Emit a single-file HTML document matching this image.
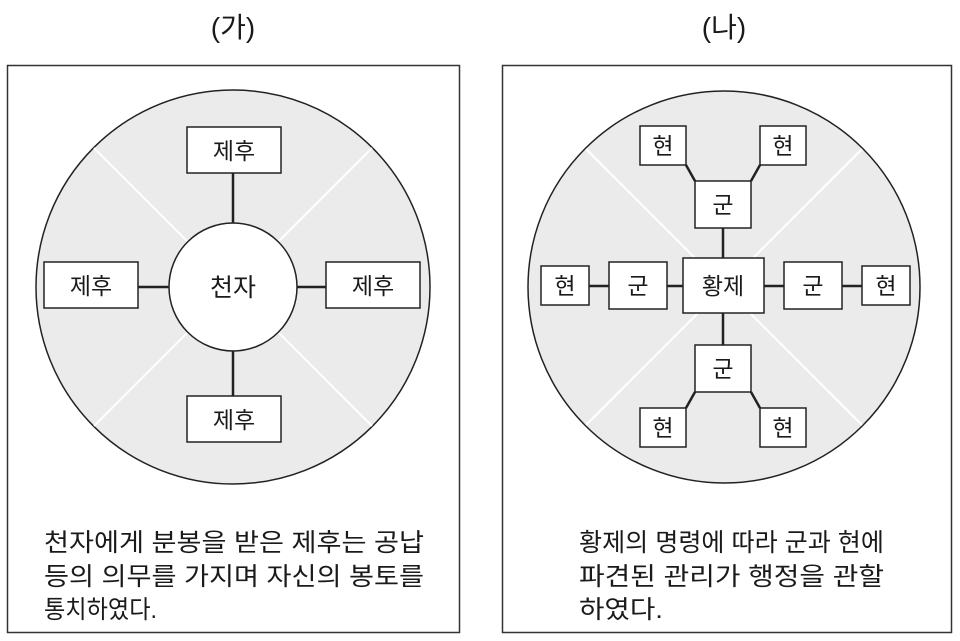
<!DOCTYPE html>
<html><head><meta charset="utf-8"><style>
html,body{margin:0;padding:0;background:#fff;overflow:hidden}
svg{display:block}
text{font-family:"Liberation Sans","Noto Sans CJK KR","NanumGothic",sans-serif;fill:#1a1a1a}
</style></head><body>
<svg width="960" height="641" viewBox="0 0 960 641" xmlns="http://www.w3.org/2000/svg">
<text x="233" y="37" font-size="28" text-anchor="middle">(가)</text>
<text x="724" y="37" font-size="28" text-anchor="middle">(나)</text>
<rect x="7.5" y="65.5" width="452" height="567" fill="none" stroke="#333" stroke-width="1.5"/>
<rect x="502.5" y="65.5" width="449" height="567" fill="none" stroke="#333" stroke-width="1.5"/>

<!-- left -->
<circle cx="233" cy="287" r="197" fill="#ebebeb" stroke="#222" stroke-width="1.5"/>
<g stroke="#fff" stroke-width="2">
<line x1="94" y1="148" x2="372" y2="426"/><line x1="372" y1="148" x2="94" y2="426"/>
</g>
<g stroke="#222" stroke-width="2.5">
<line x1="233" y1="173" x2="233" y2="396"/><line x1="138" y1="287" x2="326" y2="287"/>
</g>
<circle cx="233" cy="287" r="64" fill="#fff" stroke="#222" stroke-width="1.5"/>
<g fill="#fff" stroke="#222" stroke-width="1.5">
<rect x="187" y="127" width="94" height="46"/><rect x="44" y="262" width="94" height="46"/>
<rect x="326" y="262" width="94" height="46"/><rect x="187" y="396" width="94" height="46"/>
</g>
<g font-size="23" text-anchor="middle">
<text x="234" y="159">제후</text><text x="91" y="294">제후</text><text x="373" y="294">제후</text><text x="234" y="428">제후</text>
<text x="233" y="296" font-size="25">천자</text>
</g>

<!-- right -->
<circle cx="724" cy="287" r="196" fill="#ebebeb" stroke="#222" stroke-width="1.5"/>
<g stroke="#fff" stroke-width="2">
<line x1="586" y1="149" x2="862" y2="425"/><line x1="862" y1="149" x2="586" y2="425"/>
</g>
<g stroke="#222" stroke-width="2.5" fill="none">
<line x1="723" y1="228" x2="723" y2="345"/><line x1="589" y1="286" x2="862" y2="286"/>
<polyline points="686,165 695,181"/><polyline points="760,165 751,181"/>
<polyline points="686,408 695,392"/><polyline points="760,408 751,392"/>
</g>
<g fill="#fff" stroke="#222" stroke-width="1.5">
<rect x="683" y="258" width="81" height="55"/>
<rect x="695" y="181" width="56" height="47"/><rect x="695" y="345" width="56" height="47"/>
<rect x="609" y="262" width="58" height="47"/><rect x="784" y="262" width="58" height="47"/>
<rect x="640" y="126" width="46" height="39"/><rect x="760" y="126" width="46" height="39"/>
<rect x="640" y="408" width="46" height="39"/><rect x="760" y="408" width="46" height="39"/>
<rect x="541" y="266" width="48" height="39"/><rect x="862" y="266" width="48" height="39"/>
</g>
<g font-size="23" text-anchor="middle">
<text x="723" y="294">황제</text>
<text x="723" y="213">군</text><text x="723" y="377">군</text>
<text x="638" y="294">군</text><text x="813" y="294">군</text>
<text x="663" y="154">현</text><text x="783" y="154">현</text>
<text x="663" y="436">현</text><text x="783" y="436">현</text>
<text x="565" y="294">현</text><text x="886" y="294">현</text>
</g>

<g font-size="25">
<text x="44" y="551" textLength="380" lengthAdjust="spacingAndGlyphs">천자에게 분봉을 받은 제후는 공납</text>
<text x="44" y="585" textLength="380" lengthAdjust="spacingAndGlyphs">등의 의무를 가지며 자신의 봉토를</text>
<text x="44" y="618" textLength="113" lengthAdjust="spacingAndGlyphs">통치하였다.</text>
<text x="579" y="551" textLength="305" lengthAdjust="spacingAndGlyphs">황제의 명령에 따라 군과 현에</text>
<text x="579" y="585" textLength="305" lengthAdjust="spacingAndGlyphs">파견된 관리가 행정을 관할</text>
<text x="579" y="618" textLength="84" lengthAdjust="spacingAndGlyphs">하였다.</text>
</g>
</svg>
</body></html>
